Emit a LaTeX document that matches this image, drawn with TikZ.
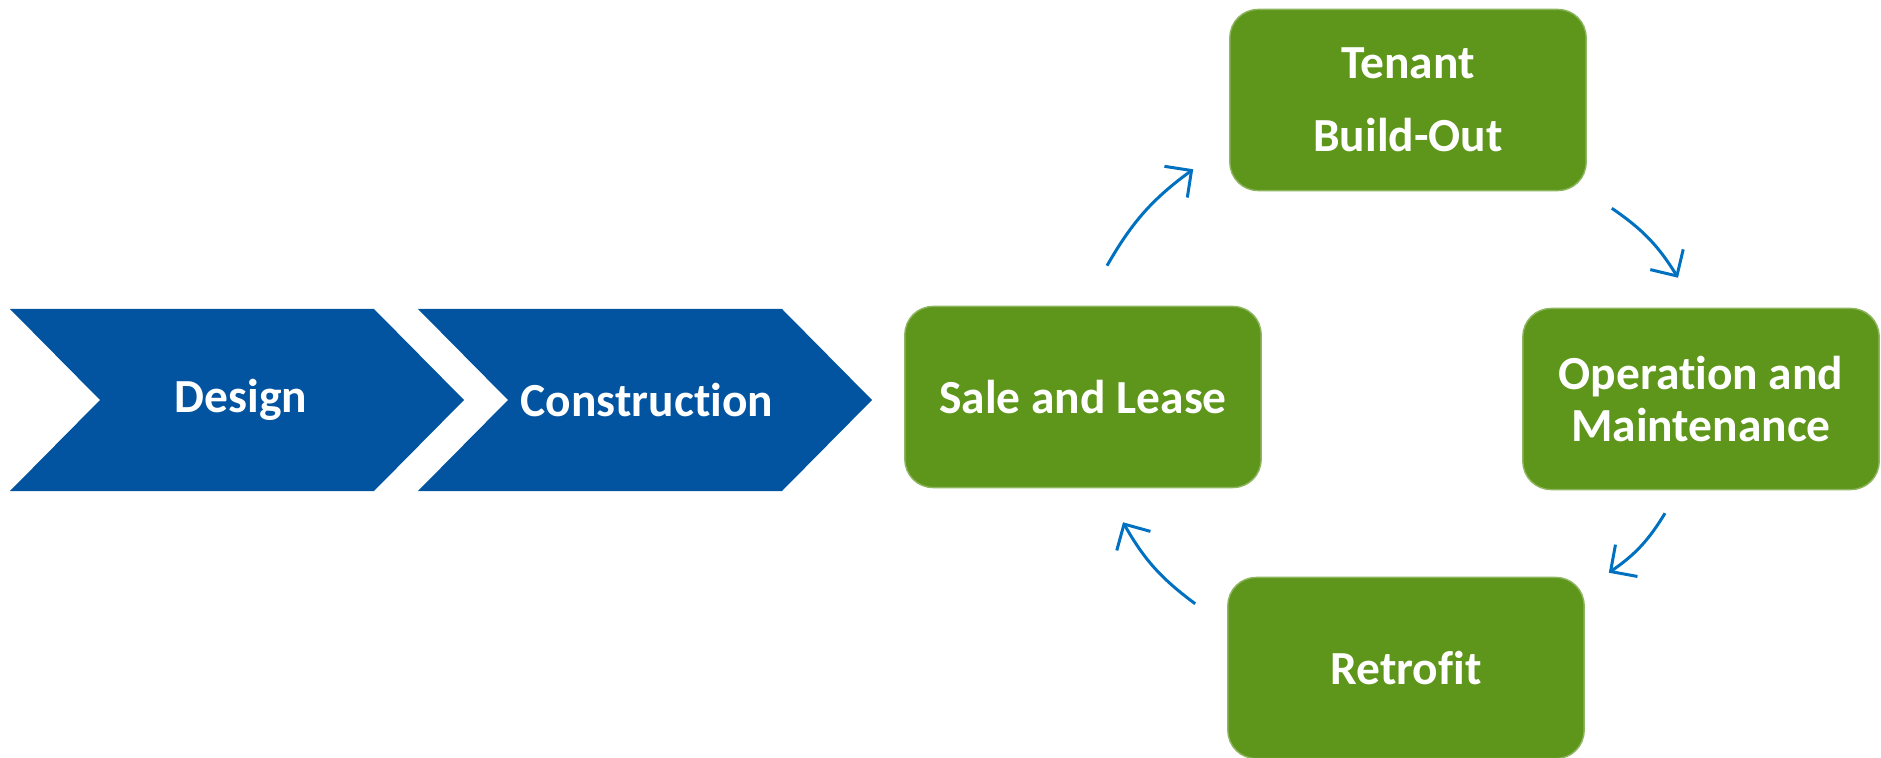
\documentclass[tikz,border=0pt]{standalone}
\usepackage{fontspec}
\setmainfont{Carlito}[RawFeature={-liga;-clig;-dlig}]
\usetikzlibrary{arrows.meta, calc}

\definecolor{chevblue}{RGB}{2,84,160}
\definecolor{stagegreen}{RGB}{94,150,27}
\definecolor{loopblue}{RGB}{0,112,192}

\begin{document}
\begin{tikzpicture}[x=0.01cm, y=0.01cm,
  chev/.style={fill=chevblue},
  chevtext/.style={text=white, font=\bfseries\fontsize{13.5}{15}\selectfont},
  stage/.style={rectangle, rounded corners=.28cm, fill=stagegreen,
    draw=stagegreen!70!white, line width=.4pt, minimum width=3.56cm,
    minimum height=1.81cm, text=white, align=center,
    font=\bfseries\fontsize{13.5}{14.7}\selectfont},
  cyc/.style={draw=loopblue, line width=.85pt,
    -{Straight Barb[length=5.5pt,width=11pt]}, bend left=12}]
\useasboundingbox (0,0) rectangle (1881,757);
% Linear phases as chevrons
\fill[chev] (10,448) -- (374,448) -- (464,357) -- (374,266) -- (10,266) -- (100,357) -- cycle;
\fill[chev] (418,448) -- (782,448) -- (872,357) -- (782,266) -- (418,266) -- (508,357) -- cycle;
\node[chevtext] (design) at (241,357) {Design};
\node[chevtext] (construction) at (647,357) {Construction};
% Cycle of stages
\node[stage] (sale) at (1083,360) {Sale and Lease};
\node[stage] (tenant) at (1408,657) {Tenant\\[6pt]Build-Out};
\node[stage] (ops) at (1701,358) {Operation and\\Maintenance};
\node[stage] (retrofit) at (1406,89) {Retrofit};
% Arrow ends, kept clear of the boxes
\coordinate (sale-out) at ([shift={(24,40)}]sale.north);
\coordinate (tenant-in) at ([shift={(-36,22)}]tenant.south west);
\coordinate (tenant-out) at ([shift={(25,-17)}]tenant.south east);
\coordinate (ops-in) at ([shift={(-23,30)}]ops.north);
\coordinate (ops-out) at ([shift={(-36,-23)}]ops.south);
\coordinate (retrofit-in) at ([shift={(24,4)}]retrofit.north east);
\coordinate (retrofit-out) at ([shift={(-32,-27)}]retrofit.north west);
\coordinate (sale-in) at ([shift={(40,-34)}]sale.south);
\draw[cyc] (sale-out) to (tenant-in);
\draw[cyc] (tenant-out) to (ops-in);
\draw[cyc] (ops-out) to (retrofit-in);
\draw[cyc] (retrofit-out) to (sale-in);
\end{tikzpicture}
\end{document}
